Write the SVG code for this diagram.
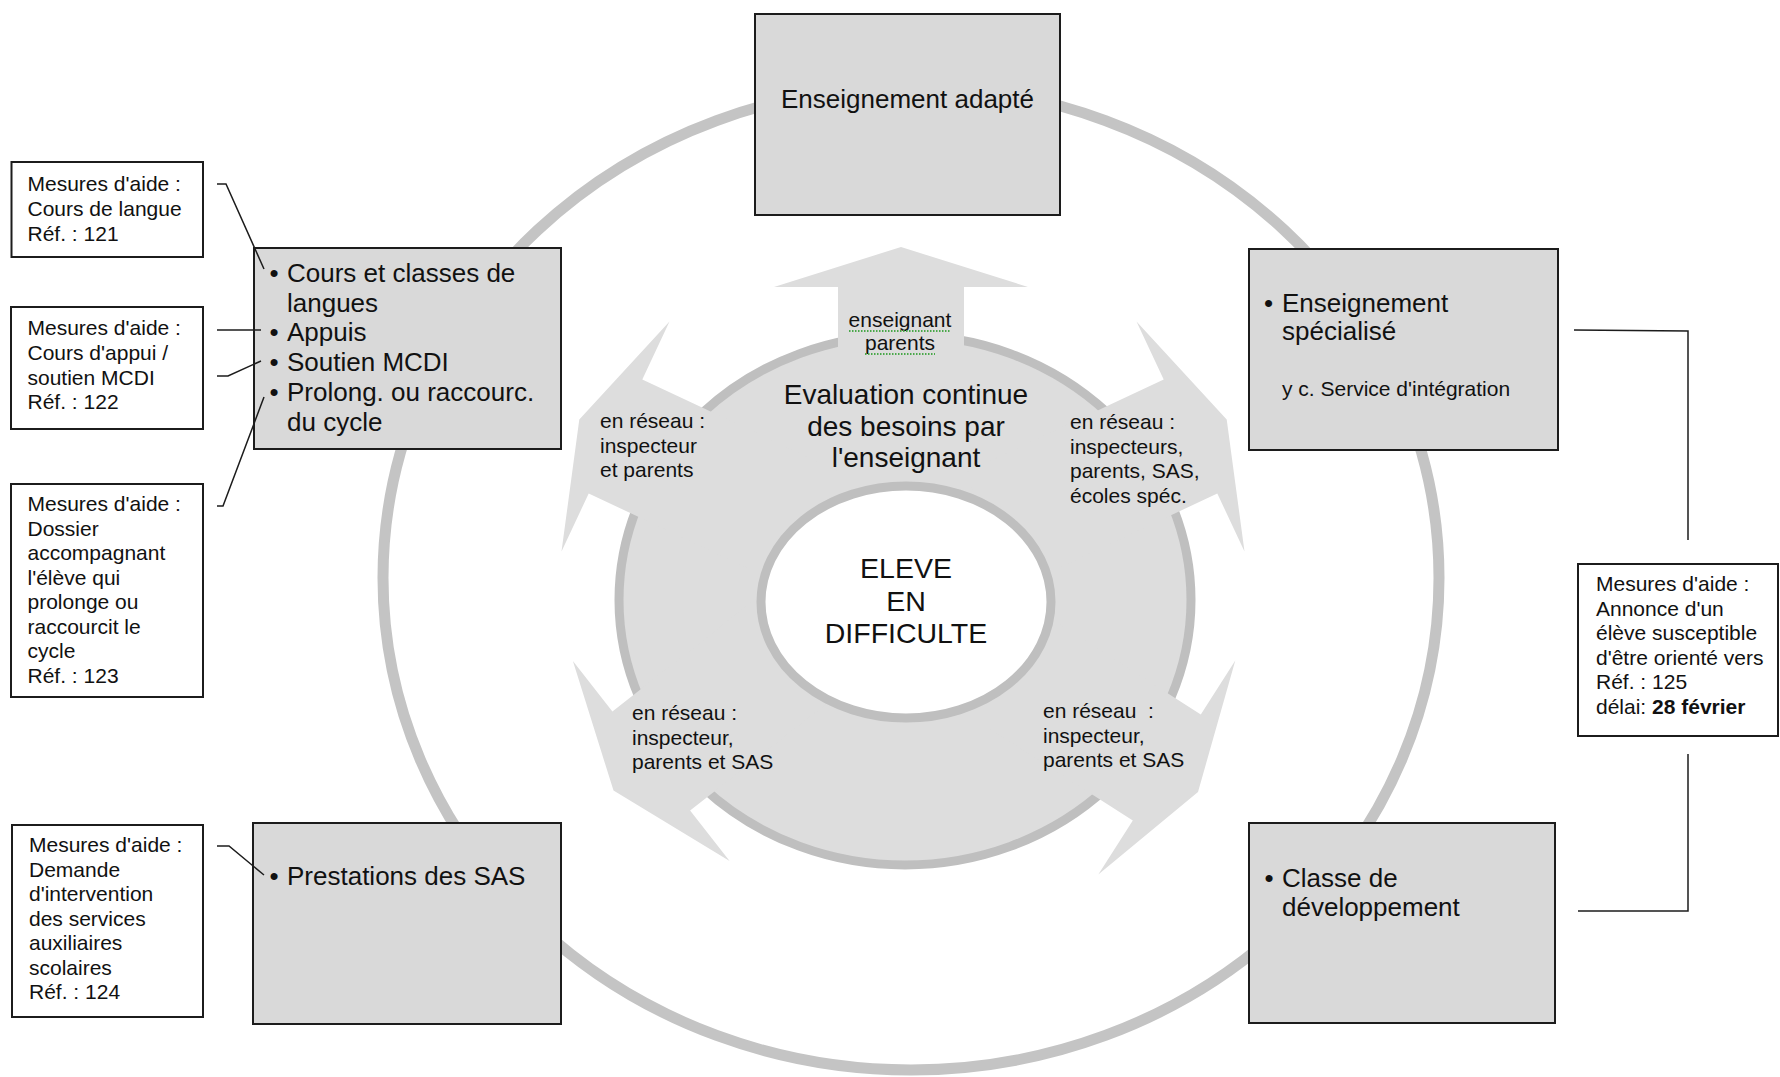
<svg xmlns="http://www.w3.org/2000/svg" width="1780" height="1077" viewBox="0 0 1780 1077">
<defs>
<style>
text { font-family: "Liberation Sans", Arial, Helvetica, sans-serif; fill: #111111; }
.box { fill: #d9d9d9; stroke: #1c1c1c; stroke-width: 2; }
.note { fill: #ffffff; stroke: #1c1c1c; stroke-width: 2; }
.t26 { font-size: 26px; }
.t21 { font-size: 21px; }
.t28 { font-size: 28px; }
.t27 { font-size: 28.5px; }
.c { text-anchor: middle; }
.conn { fill: none; stroke: #1c1c1c; stroke-width: 1.5; }
.ring { fill: none; stroke: #c4c4c4; stroke-width: 11; }
.arrow { fill: #dddddd; }
.mid { fill: #dddddd; stroke: #bfbfbf; stroke-width: 9; }
.inner { fill: #ffffff; stroke: #bfbfbf; stroke-width: 9; }
.squig { fill: none; stroke: #4aa84a; stroke-width: 2; stroke-dasharray: 1.5 1.5; }
</style>
</defs>
<rect width="1780" height="1077" fill="#ffffff"/>

<g id="outer-ring">
<ellipse class="ring" cx="911" cy="578" rx="528" ry="492"/>
</g>

<g id="centre">
<ellipse class="mid" cx="905" cy="600" rx="286" ry="265"/>
<polygon id="arrow-up" class="arrow" points="838,507 838,287 774,287 901,247 1028,287 964,287 964,507"/>
<polygon id="arrow-upper-left" class="arrow" points="841.5,473 642.3,379.5 669.5,321.5 579.3,419.5 561.5,551.5 588.7,493.5 787.9,587"/>
<polygon id="arrow-upper-right" class="arrow" points="964.5,473 1163.7,379.5 1136.5,321.5 1226.7,419.5 1244.5,551.5 1217.3,493.5 1018.1,587"/>
<polygon id="arrow-lower-left" class="arrow" points="785.5,575.7 612.4,711.4 572.9,661.1 613.5,790.6 729.6,860.9 690.1,810.6 863.3,674.9"/>
<polygon id="arrow-lower-right" class="arrow" points="1015.6,595.9 1200.8,714.5 1235.3,660.6 1198,792 1098.3,874.4 1132.8,820.5 947.6,701.9"/>
<ellipse class="inner" cx="906" cy="602" rx="145" ry="116"/>
<text class="t21 c" x="900" y="327">enseignant</text>
<text class="t21 c" x="900" y="350">parents</text>
<line class="squig" x1="849" y1="331" x2="951" y2="331"/>
<line class="squig" x1="865" y1="354" x2="935" y2="354"/>
<text class="t28 c" x="906" y="404">Evaluation continue</text>
<text class="t28 c" x="906" y="436">des besoins par</text>
<text class="t28 c" x="906" y="467">l'enseignant</text>
<text class="t27 c" x="906" y="578">ELEVE</text>
<text class="t27 c" x="906" y="611">EN</text>
<text class="t27 c" x="906" y="643">DIFFICULTE</text>
<text class="t21" x="600" y="428">en réseau :</text>
<text class="t21" x="600" y="452.5">inspecteur</text>
<text class="t21" x="600" y="477">et parents</text>
<text class="t21" x="1070" y="429">en réseau :</text>
<text class="t21" x="1070" y="453.5">inspecteurs,</text>
<text class="t21" x="1070" y="478">parents, SAS,</text>
<text class="t21" x="1070" y="502.5">écoles spéc.</text>
<text class="t21" x="632" y="720">en réseau :</text>
<text class="t21" x="632" y="744.5">inspecteur,</text>
<text class="t21" x="632" y="769">parents et SAS</text>
<text class="t21" x="1043" y="718">en réseau&#160; :</text>
<text class="t21" x="1043" y="742.5">inspecteur,</text>
<text class="t21" x="1043" y="767">parents et SAS</text>
</g>

<g id="node-enseignement-adapte">
<rect class="box" x="755" y="14" width="305" height="201"/>
<text class="t26 c" x="907.5" y="108">Enseignement adapté</text>
</g>

<g id="node-cours-langues">
<rect class="box" x="254" y="248" width="307" height="201"/>
<text class="t26" x="269.5" y="282">•</text>
<text class="t26" x="287" y="282">Cours et classes de</text>
<text class="t26" x="287" y="312">langues</text>
<text class="t26" x="269.5" y="341">•</text>
<text class="t26" x="287" y="341">Appuis</text>
<text class="t26" x="269.5" y="371">•</text>
<text class="t26" x="287" y="371">Soutien MCDI</text>
<text class="t26" x="269.5" y="401">•</text>
<text class="t26" x="287" y="401">Prolong. ou raccourc.</text>
<text class="t26" x="287" y="431">du cycle</text>
</g>

<g id="node-enseignement-specialise">
<rect class="box" x="1249" y="249" width="309" height="201"/>
<text class="t26" x="1264" y="312">•</text>
<text class="t26" x="1282" y="312">Enseignement</text>
<text class="t26" x="1282" y="340">spécialisé</text>
<text class="t21" x="1282" y="396">y c. Service d'intégration</text>
</g>

<g id="node-prestations-sas">
<rect class="box" x="253" y="823" width="308" height="201"/>
<text class="t26" x="269.5" y="885">•</text>
<text class="t26" x="287" y="885">Prestations des SAS</text>
</g>

<g id="node-classe-developpement">
<rect class="box" x="1249" y="823" width="306" height="200"/>
<text class="t26" x="1264.5" y="887">•</text>
<text class="t26" x="1282" y="887">Classe de</text>
<text class="t26" x="1282" y="916">développement</text>
</g>

<g id="note-121">
<rect class="note" x="11.5" y="162" width="191.5" height="95"/>
<text class="t21" x="27.5" y="191">Mesures d'aide :</text>
<text class="t21" x="27.5" y="216">Cours de langue</text>
<text class="t21" x="27.5" y="240.5">Réf. : 121</text>
</g>

<g id="note-122">
<rect class="note" x="11" y="307" width="192" height="122"/>
<text class="t21" x="27.5" y="335">Mesures d'aide :</text>
<text class="t21" x="27.5" y="360">Cours d'appui /</text>
<text class="t21" x="27.5" y="384.5">soutien MCDI</text>
<text class="t21" x="27.5" y="409">Réf. : 122</text>
</g>

<g id="note-123">
<rect class="note" x="11" y="484" width="192" height="213"/>
<text class="t21" x="27.5" y="511">Mesures d'aide :</text>
<text class="t21" x="27.5" y="535.5">Dossier</text>
<text class="t21" x="27.5" y="560">accompagnant</text>
<text class="t21" x="27.5" y="584.5">l'élève qui</text>
<text class="t21" x="27.5" y="609">prolonge ou</text>
<text class="t21" x="27.5" y="633.5">raccourcit le</text>
<text class="t21" x="27.5" y="658">cycle</text>
<text class="t21" x="27.5" y="682.5">Réf. : 123</text>
</g>

<g id="note-124">
<rect class="note" x="12" y="825" width="191" height="192"/>
<text class="t21" x="29" y="852">Mesures d'aide :</text>
<text class="t21" x="29" y="876.5">Demande</text>
<text class="t21" x="29" y="901">d'intervention</text>
<text class="t21" x="29" y="925.5">des services</text>
<text class="t21" x="29" y="950">auxiliaires</text>
<text class="t21" x="29" y="974.5">scolaires</text>
<text class="t21" x="29" y="999">Réf. : 124</text>
</g>

<g id="note-125">
<rect class="note" x="1578" y="564" width="200" height="172"/>
<text class="t21" x="1596" y="591">Mesures d'aide :</text>
<text class="t21" x="1596" y="615.5">Annonce d'un</text>
<text class="t21" x="1596" y="640">élève susceptible</text>
<text class="t21" x="1596" y="664.5">d'être orienté vers</text>
<text class="t21" x="1596" y="689">Réf. : 125</text>
<text class="t21" x="1596" y="714">délai: <tspan font-weight="bold">28 février</tspan></text>
</g>

<g id="connectors">
<polyline class="conn" points="217,184 226,184 264,269"/>
<polyline class="conn" points="217,330 261,330"/>
<polyline class="conn" points="217,376 228,376 261,361"/>
<polyline class="conn" points="217,506 223,506 264,397"/>
<polyline class="conn" points="217,846 229,846 264,875"/>
<polyline class="conn" points="1574,330 1688,331 1688,540"/>
<polyline class="conn" points="1578,911 1688,911 1688,754"/>
</g>
</svg>
